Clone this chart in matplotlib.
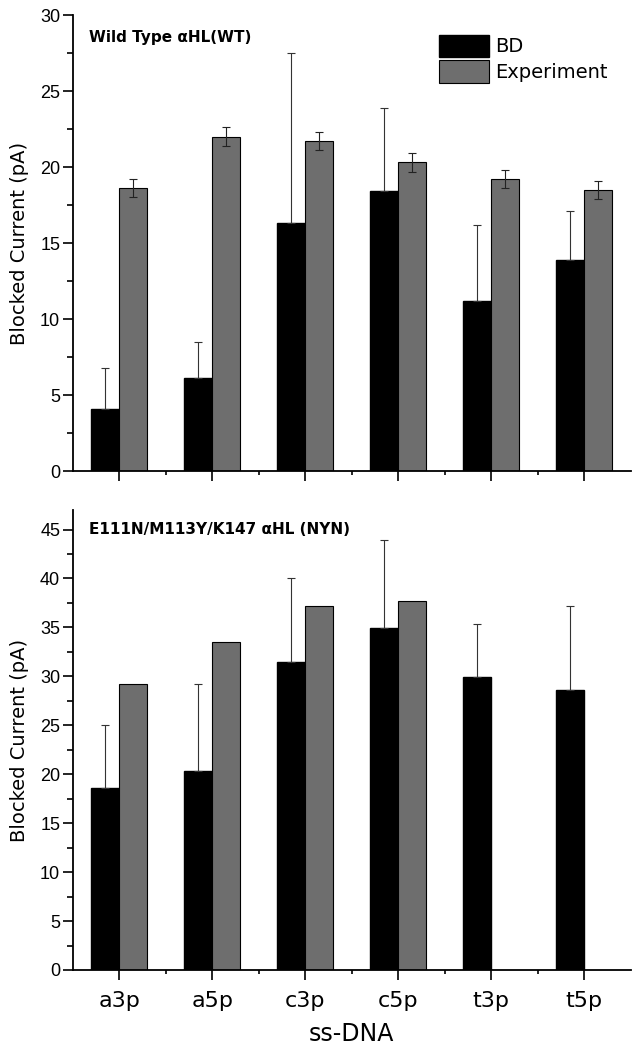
import numpy as np
import matplotlib.pyplot as plt
from matplotlib.ticker import MultipleLocator

labels = ['a3p', 'a5p', 'c3p', 'c5p', 't3p', 't5p']

# Wild type panel
wt_bd = [4.1, 6.1, 16.3, 18.4, 11.2, 13.9]
wt_bd_err = [2.7, 2.4, 11.2, 5.5, 5.0, 3.2]
wt_exp = [18.6, 22.0, 21.7, 20.3, 19.2, 18.5]
wt_exp_err = [0.6, 0.6, 0.6, 0.6, 0.6, 0.6]

# NYN mutant panel
nyn_bd = [18.6, 20.3, 31.5, 34.9, 29.9, 28.6]
nyn_bd_err = [6.4, 8.9, 8.6, 9.0, 5.4, 8.6]
nyn_exp = [29.2, 33.5, 37.2, 37.7, np.nan, np.nan]

bar_w = 0.3
tick_font = 'Liberation Sans'

fig = plt.figure(figsize=(6.4, 10.5), dpi=100)
ax1 = fig.add_axes([0.1136, 0.5514, 0.872, 0.4343])
ax2 = fig.add_axes([0.1136, 0.0762, 0.872, 0.4381])

x = np.arange(len(labels))


def style_axis(ax, ymax, major):
    for s in ['top', 'right']:
        ax.spines[s].set_visible(False)
    ax.spines['left'].set_linewidth(1.3)
    ax.spines['bottom'].set_linewidth(1.3)
    ax.set_xlim(-0.5, 5.5)
    ax.set_ylim(0, ymax)
    ax.yaxis.set_major_locator(MultipleLocator(major))
    ax.yaxis.set_minor_locator(MultipleLocator(major / 2))
    ax.set_xticks(x)
    ax.set_xticks(x[:-1] + 0.5, minor=True)
    ax.tick_params(axis='y', which='major', direction='out', length=7, width=1.2, pad=2)
    ax.tick_params(axis='y', which='minor', direction='out', length=4, width=1.2)
    ax.tick_params(axis='x', which='major', direction='out', length=7, width=1.2, pad=8)
    ax.tick_params(axis='x', which='minor', direction='out', length=3, width=1.2)
    for t in ax.get_yticklabels():
        t.set_fontfamily(tick_font)
        t.set_fontsize(13)
    ax.set_ylabel('Blocked Current (pA)', fontsize=14, labelpad=8)


# top panel
ax1.bar(x - bar_w / 2, wt_bd, bar_w, color='black', edgecolor='black', label='BD')
ax1.bar(x + bar_w / 2, wt_exp, bar_w, color='#6e6e6e', edgecolor='black',
        linewidth=0.8, label='Experiment')
ax1.errorbar(x - bar_w / 2, wt_bd, yerr=[np.zeros(6), wt_bd_err], fmt='none',
             ecolor='#333333', elinewidth=0.8, capsize=3, capthick=0.8)
ax1.errorbar(x + bar_w / 2, wt_exp, yerr=wt_exp_err, fmt='none',
             ecolor='#222222', elinewidth=0.8, capsize=3, capthick=0.8)
style_axis(ax1, 30, 5)
ax1.set_xticklabels([])
ax1.text(0.03, 0.95, 'Wild Type αHL(WT)', transform=ax1.transAxes,
         fontsize=11, fontweight='bold', va='center')
ax1.legend(loc='upper right', bbox_to_anchor=(0.99, 0.995), frameon=False,
           fontsize=14, handlelength=2.6, handleheight=1.4, labelspacing=0.15,
           handletextpad=0.3)

# bottom panel
ax2.bar(x - bar_w / 2, nyn_bd, bar_w, color='black', edgecolor='black')
ax2.bar(x + bar_w / 2, nyn_exp, bar_w, color='#6e6e6e', edgecolor='black', linewidth=0.8)
ax2.errorbar(x - bar_w / 2, nyn_bd, yerr=[np.zeros(6), nyn_bd_err], fmt='none',
             ecolor='#333333', elinewidth=0.8, capsize=3, capthick=0.8)
style_axis(ax2, 47, 5)
ax2.set_xticklabels(labels, fontsize=16)
ax2.text(0.03, 0.957, 'E111N/M113Y/K147 αHL (NYN)', transform=ax2.transAxes,
         fontsize=11, fontweight='bold', va='center')
ax2.set_xlabel('ss-DNA', fontsize=17, labelpad=8)

fig.savefig('out.png', dpi=100)
